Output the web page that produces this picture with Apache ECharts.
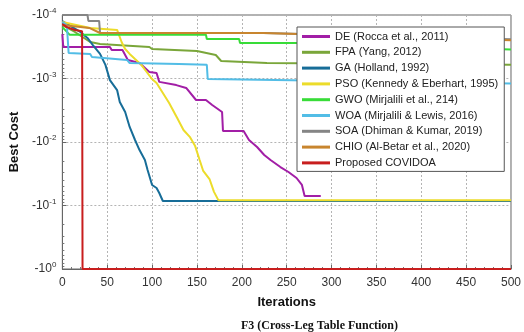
<!DOCTYPE html>
<html>
<head>
<meta charset="utf-8">
<script src="https://cdn.jsdelivr.net/npm/echarts@6/dist/echarts.min.js"></script>
<style>
  html, body { margin: 0; padding: 0; background: #fff; }
  #chart { width: 524px; height: 332px; }
</style>
</head>
<body>
<div id="chart"></div>
<script>
// best cost per iteration ([iteration, cost])
const seriesNames = [
  'DE (Rocca et al., 2011)',
  'FPA (Yang, 2012)',
  'GA (Holland, 1992)',
  'PSO (Kennedy & Eberhart, 1995)',
  'GWO (Mirjalili et al., 214)',
  'WOA (Mirjalili & Lewis, 2016)',
  'SOA (Dhiman & Kumar, 2019)',
  'CHIO (Al-Betar et al., 2020)',
  'Proposed COVIDOA'
];
const seriesColors = ['#a21ea6', '#7aa63a', '#176d98', '#ecdc2a', '#38dc38', '#52bde6', '#858585', '#c8852e', '#c81e1e'];

const de = [[0, -2.0e-4], [1, -3.19e-4], [53, -3.19e-4], [55, -3.56e-4], [67, -3.56e-4], [73, -5.1e-4], [86, -5.7e-4],
  [97, -7.9e-4], [105, -8.2e-4], [108, -1.13e-3], [127, -1.27e-3], [138, -1.41e-3], [149, -2.18e-3], [160, -2.18e-3],
  [167, -2.61e-3], [178, -3.37e-3], [179, -6.7e-3], [202, -6.7e-3], [208, -9.3e-3], [217, -1.2e-2], [225, -1.6e-2],
  [232, -1.92e-2], [243, -2.48e-2], [252, -2.97e-2], [261, -3.69e-2], [267, -4.75e-2], [270, -7.1e-2], [288, -7.1e-2]];
const fpa = [[0, -1.44e-4], [14, -1.85e-4], [31, -2.66e-4], [42, -2.86e-4], [97, -3.19e-4], [100, -3.43e-4],
  [150, -3.69e-4], [171, -4.26e-4], [177, -5.3e-4], [228, -5.7e-4], [500, -6.1e-4]];
const ga = [[0, -1.25e-4], [20, -1.85e-4], [28, -2.3e-4], [34, -2.97e-4], [42, -4.1e-4], [48, -6.1e-4], [53, -1.06e-3],
  [55, -1.06e-3], [61, -1.52e-3], [64, -2.34e-3], [70, -3.37e-3], [75, -5.8e-3], [81, -9.3e-3], [86, -1.34e-2],
  [92, -1.92e-2], [95, -2.76e-2], [100, -4.75e-2], [105, -5.3e-2], [108, -6.35e-2], [112, -8.5e-2], [500, -8.5e-2]];
const pso = [[0, -1.29e-4], [31, -1.6e-4], [61, -1.72e-4], [66, -2.66e-4], [70, -3.43e-4], [75, -4.1e-4], [81, -4.93e-4],
  [88, -6.1e-4], [94, -7.9e-4], [100, -1.02e-3], [105, -1.18e-3], [112, -1.69e-3], [119, -2.43e-3], [128, -4.19e-3],
  [135, -6.47e-3], [142, -8.3e-3], [148, -1.16e-2], [153, -1.92e-2], [157, -2.86e-2], [164, -3.83e-2], [169, -6.1e-2],
  [174, -8.3e-2], [500, -8.3e-2]];
const gwo = [[0, -1.55e-4], [8, -2.04e-4], [160, -2.04e-4], [161, -2.39e-4], [197, -2.39e-4], [198, -2.76e-4],
  [260, -2.76e-4], [500, -3.5e-4]];
const woa = [[0, -1.29e-4], [5, -1.44e-4], [7, -3.97e-4], [31, -4.1e-4], [33, -4.58e-4], [72, -5.1e-4], [75, -5.7e-4],
  [130, -5.9e-4], [161, -6.1e-4], [162, -1.02e-3], [500, -1.2e-3]];
const soa = [[0, -1.0e-4], [28, -1.0e-4], [29, -1.24e-4], [41, -1.24e-4], [42, -1.92e-4], [224, -1.92e-4],
  [225, -2.06e-4], [500, -2.4e-4]];
const chio = [[0, -1.44e-4], [30, -1.6e-4], [42, -1.92e-4], [224, -1.92e-4], [225, -2.06e-4], [500, -2.5e-4]];
const covidoa = [[0, -1.39e-4], [5, -1.55e-4], [14, -1.72e-4], [22, -1.8e-4], [22.5, -1], [500, -1]];

const allData = [de, fpa, ga, pso, gwo, woa, soa, chio, covidoa];
const xTicks = [0, 50, 100, 150, 200, 250, 300, 350, 400, 450, 500];

const font = '"Liberation Sans", Arial, sans-serif';
const chart = echarts.init(document.getElementById('chart'));

const option = {
  animation: false,
  textStyle: { fontFamily: font },
  title: {
    text: 'F3 (Cross-Leg Table Function)',
    left: 236, top: 315,
    textStyle: { fontFamily: '"Liberation Serif", "Times New Roman", serif', fontWeight: 'bold', fontSize: 12, color: '#111' }
  },
  grid: { left: 62, right: 10, top: 15, bottom: 63, show: true, borderColor: '#666', borderWidth: 1, backgroundColor: 'transparent' },
  legend: {
    orient: 'vertical', left: 297, top: 27, z: 20,
    data: seriesNames,
    icon: 'rect', itemWidth: 28, itemHeight: 3, itemGap: 4.8,
    padding: [4, 6, 3, 5],
    backgroundColor: '#fff', borderColor: '#555', borderWidth: 1,
    textStyle: { fontSize: 11, color: '#222', fontFamily: font }
  },
  xAxis: {
    type: 'value', min: 0, max: 500, interval: 50,
    name: 'Iterations', nameLocation: 'middle', nameGap: 27,
    nameTextStyle: { fontWeight: 'bold', fontSize: 13, color: '#111' },
    axisLine: { lineStyle: { color: '#666' } },
    axisTick: { inside: true, length: 4, lineStyle: { color: '#666' } },
    minorTick: { show: true, splitNumber: 5, length: 2, lineStyle: { color: '#777' } },
    axisLabel: { fontSize: 12, color: '#333', margin: 8, formatter: v => xTicks.includes(v) ? String(v) : '' },
    splitLine: { show: true, lineStyle: { type: [2, 2], color: '#b4b4b4' } }
  },
  yAxis: {
    type: 'log', logBase: 10, min: 1e-4, max: 1, inverse: true,
    name: 'Best Cost', nameLocation: 'middle', nameGap: 36,
    nameTextStyle: { fontWeight: 'bold', fontSize: 13, color: '#111' },
    axisLine: { show: true, lineStyle: { color: '#666' } },
    axisTick: { show: true, inside: true, length: 4, lineStyle: { color: '#666' } },
    minorTick: { show: true, splitNumber: 9, length: 2, lineStyle: { color: '#777' } },
    axisLabel: {
      color: '#333', margin: 6,
      formatter: v => '{b|-10}{s|' + Math.round(Math.log10(v)) + '}',
      rich: {
        b: { fontSize: 12, color: '#333', fontFamily: font },
        s: { fontSize: 8, color: '#333', fontFamily: font, verticalAlign: 'top', padding: [0, 0, 8, 0] }
      }
    },
    splitLine: { show: true, lineStyle: { type: [2, 2], color: '#b4b4b4' } }
  },
  series: allData.map((d, i) => ({
    name: seriesNames[i],
    type: 'line',
    data: d.map(p => [p[0], Math.abs(p[1])]),
    showSymbol: false,
    symbol: 'none',
    clip: false,
    z: 2,
    color: seriesColors[i],
    lineStyle: { width: 2, color: seriesColors[i] }
  }))
};

chart.setOption(option);
</script>
</body>
</html>
